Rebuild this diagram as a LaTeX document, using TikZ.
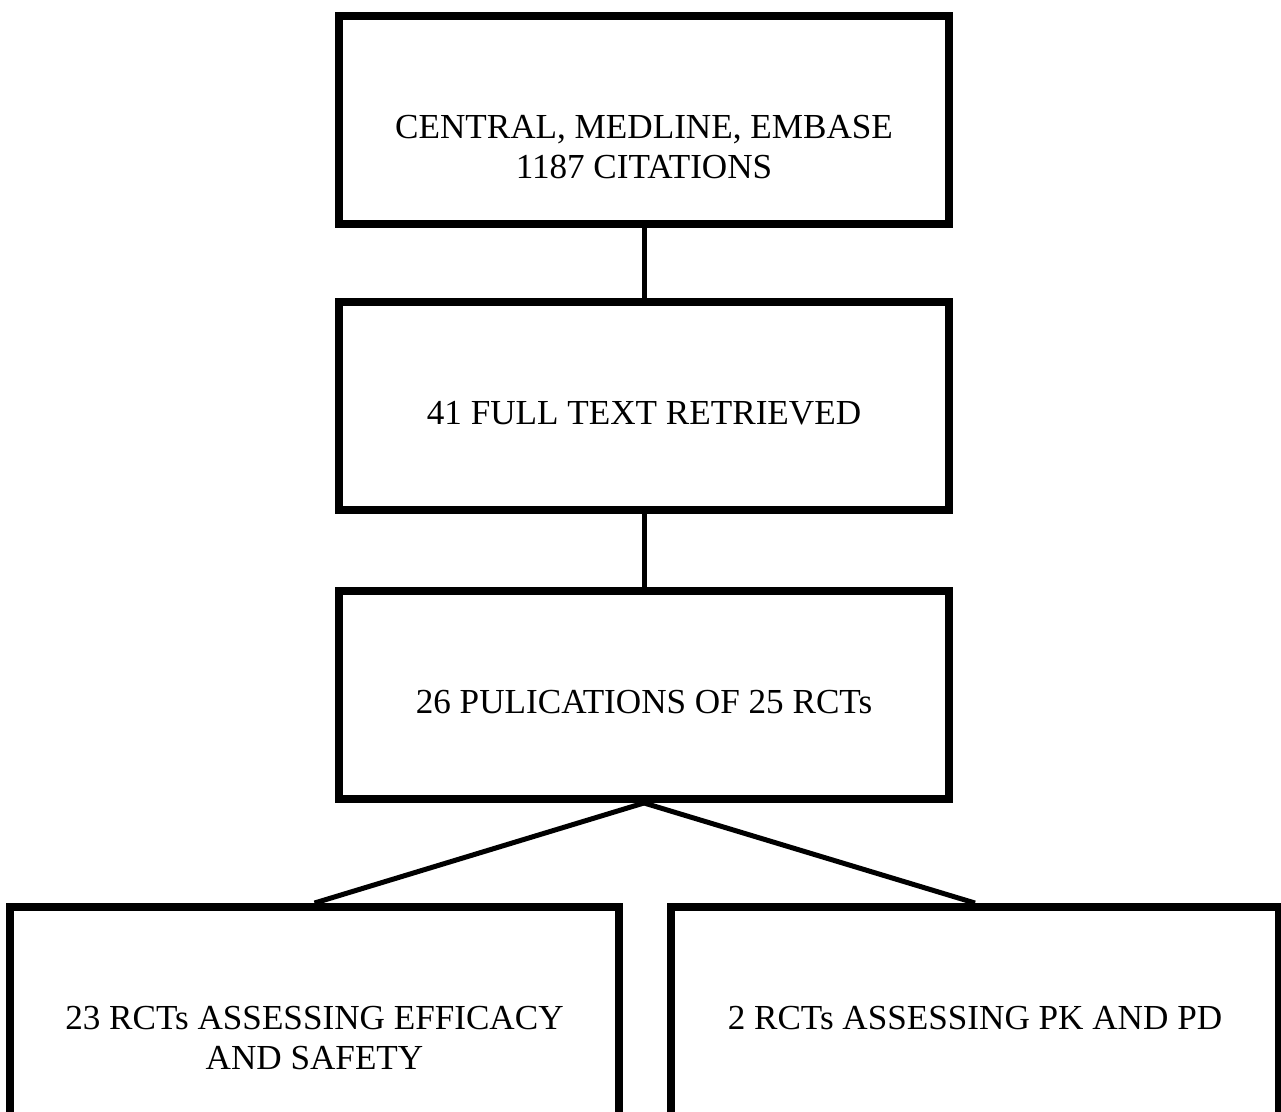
\documentclass[tikz,border=0pt]{standalone}
\usepackage{fontspec}
\setmainfont{Liberation Serif}
\usepackage{tikz}

% text of a box: set from the top, as in the flow chart
\newcommand{\boxtxt}[3]{\parbox[c][#2][t]{#1}{\centering\rule{0pt}{2.45cm}#3}}

\begin{document}
\begin{tikzpicture}
  [x=0.02cm,y=-0.02cm,
   box/.style={draw,line width=0.16cm,inner sep=0pt,
               font=\fontsize{20}{22.5}\selectfont},
   link/.style={line width=0.1cm}]
  \useasboundingbox (0,0) rectangle (1281,1112);
  \clip (0,0) rectangle (1281,1112);
  \node[box] (b1) at (644,120)   {\boxtxt{12.2cm}{4.16cm}{CENTRAL, MEDLINE, EMBASE\\1187 CITATIONS}};
  \node[box] (b2) at (644,406)   {\boxtxt{12.2cm}{4.16cm}{41 FULL TEXT RETRIEVED}};
  \node[box] (b3) at (644,695)   {\boxtxt{12.2cm}{4.16cm}{26 PULICATIONS OF 25 RCTs}};
  \node[box] (b4) at (314.5,1014.5) {\boxtxt{12.18cm}{4.3cm}{23 RCTs ASSESSING EFFICACY\\AND SAFETY}};
  \node[box] (b5) at (975,1014.5)   {\boxtxt{12.16cm}{4.3cm}{2 RCTs ASSESSING PK AND PD}};
  \foreach \from/\to in {b1/b2,b2/b3,b3/b4,b3/b5}
    \draw[link] (\from.south) -- (\to.north);
\end{tikzpicture}
\end{document}
